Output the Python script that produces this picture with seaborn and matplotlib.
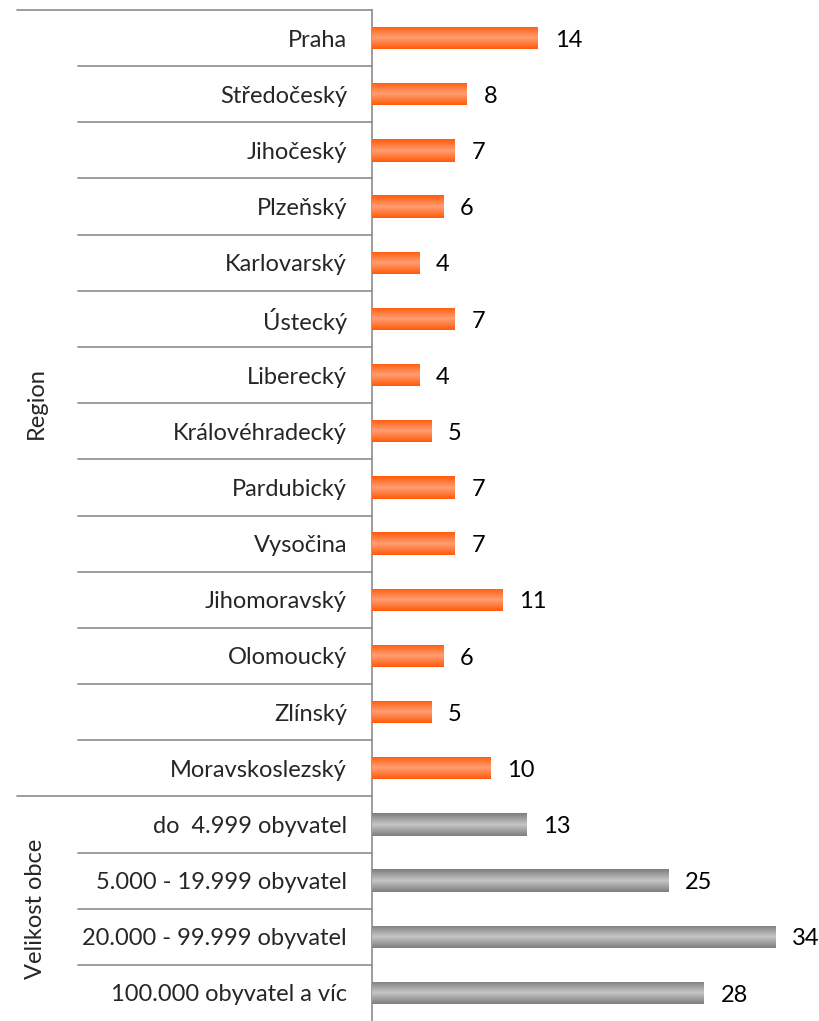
import numpy as np
import pandas as pd
import matplotlib.pyplot as plt
import seaborn as sns
from matplotlib.colors import LinearSegmentedColormap

# data
regions = ['Praha', 'Středočeský', 'Jihočeský', 'Plzeňský', 'Karlovarský', 'Ústecký',
           'Liberecký', 'Královéhradecký', 'Pardubický', 'Vysočina', 'Jihomoravský',
           'Olomoucký', 'Zlínský', 'Moravskoslezský']
region_values = [14, 8, 7, 6, 4, 7, 4, 5, 7, 7, 11, 6, 5, 10]
sizes = ['do  4.999 obyvatel', '5.000 - 19.999 obyvatel', '20.000 - 99.999 obyvatel',
         '100.000 obyvatel a víc']
size_values = [13, 25, 34, 28]
groups = ['Region', 'Velikost obce']

df = pd.DataFrame({
    'label': regions + sizes,
    'value': region_values + size_values,
    'group': [groups[0]] * len(regions) + [groups[1]] * len(sizes),
})

sns.set_style('white')
plt.rcParams['font.family'] = ['Lato', 'DejaVu Sans']
FS = 17

fig = plt.figure(figsize=(8.19, 10.21), dpi=100)
ax = fig.add_axes([372 / 819, 0, 447 / 819, 1 - 10 / 1021])

sns.barplot(data=df, y='label', x='value', hue='group', orient='h', dodge=False,
            palette={'Region': '#FF6A1E', 'Velikost obce': '#999999'},
            width=0.4, legend=False, ax=ax)

# shaded look of the bars
cmaps = {
    'Region': LinearSegmentedColormap.from_list('o', ['#FF5A0A', '#FF9E72', '#FF5A0A']),
    'Velikost obce': LinearSegmentedColormap.from_list('g', ['#7E7E7E', '#C6C6C6', '#7E7E7E']),
}
grad = np.linspace(0, 1, 64).reshape(-1, 1)
for i, (val, grp) in enumerate(zip(df['value'], df['group'])):
    patch = [p for p in ax.patches if abs(p.get_y() + p.get_height() / 2 - i) < 0.01 and p.get_width() > 0][0]
    x0, y0, w, h = patch.get_x(), patch.get_y(), patch.get_width(), patch.get_height()
    im = ax.imshow(grad, cmap=cmaps[grp], aspect='auto', extent=(x0, x0 + w, y0 + h, y0),
                   zorder=3, interpolation='bilinear')
    im.set_clip_path(patch)
    ax.text(val + 1.4, i + 0.04, str(val), va='center', ha='left', fontsize=FS, color='black')

n = len(df)
ax.set_xlim(0, 37.7)
ax.set_ylim(n - 0.5, -0.5)
ax.set_xlabel('')
ax.set_ylabel('')
ax.set_xticks([])
ax.tick_params(axis='y', length=0, pad=18, labelsize=FS)
for s in ['top', 'right', 'bottom']:
    ax.spines[s].set_visible(False)
ax.spines['left'].set_color('#8C8C8C')
ax.spines['left'].set_linewidth(1.2)

# separators in the label area
trans = ax.get_yaxis_transform()
inner_x = (78 - 372) / 447
outer_x = (17 - 372) / 447
for k in range(n):
    yb = k - 0.5
    x_start = outer_x if k in (0, len(regions)) else inner_x
    ax.plot([x_start, 0], [yb, yb], transform=trans, color='#8C8C8C', lw=1.2, clip_on=False)

# group labels
ax.text((36 - 372) / 447, (len(regions) - 1) / 2, groups[0], transform=trans, rotation=90,
        ha='center', va='center', fontsize=FS)
ax.text((36 - 372) / 447, len(regions) + (len(sizes) - 1) / 2, groups[1], transform=trans,
        rotation=90, ha='center', va='center', fontsize=FS)

plt.savefig('out.png', dpi=100)
